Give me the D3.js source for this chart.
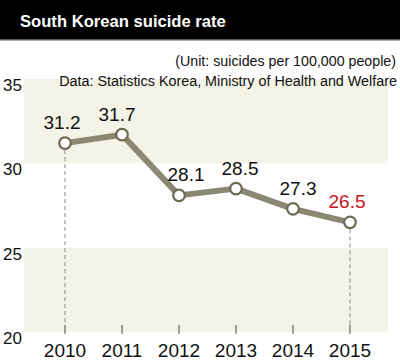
<!DOCTYPE html>
<html><head><meta charset="utf-8">
<script src="https://cdn.jsdelivr.net/npm/d3@7"></script>
<style>html,body{margin:0;padding:0;background:#fff;}svg{display:block;}</style>
</head><body>
<svg id="c" width="400" height="363"></svg>
<script>
const years = ["2010","2011","2012","2013","2014","2015"];
const rates = [31.2, 31.7, 28.1, 28.5, 27.3, 26.5];
const yTicks = [20, 25, 30, 35];
const bands = [[30, 35], [20, 25]];
const labelDx = [-3, -5, 7, 4, 5, -3];
const title = "South Korean suicide rate";
const unitNote = "(Unit: suicides per 100,000 people)";
const sourceNote = "Data: Statistics Korea, Ministry of Health and Welfare";

const svg = d3.select("#c");
const x = d3.scalePoint().domain(years).range([65, 350]);
const y = d3.scaleLinear().domain([20, 35]).range([332, 79]);
const plotL = 24, plotR = 388;

// fit font size so that the natural width matches target
function fit(sel, size, target, maxSize) {
  sel.attr("font-size", size);
  const w = sel.node().getComputedTextLength();
  if (w > 0) {
    let s = size * target / w;
    if (maxSize) s = Math.min(s, maxSize);
    sel.attr("font-size", s);
  }
  return sel;
}

// title bar
svg.append("rect").attr("x",0).attr("y",0).attr("width",400).attr("height",39).attr("fill","#000");
svg.append("rect").attr("x",0).attr("y",39).attr("width",400).attr("height",1.5).attr("fill","#5a5a5a");
const t = svg.append("text").attr("x",20).attr("y",27).text(title)
  .attr("font-family","'Liberation Sans Narrow','Liberation Sans',sans-serif").attr("font-weight","bold")
  .attr("fill","#fff");
fit(t, 20, 206, 21);

// bands
svg.selectAll("rect.band").data(bands).enter().append("rect").attr("class","band")
  .attr("x",plotL).attr("width",plotR-plotL)
  .attr("y",d=>y(d[1])).attr("height",d=>y(d[0])-y(d[1]))
  .attr("fill","#f4f3e8");

// notes
const n1 = svg.append("text").attr("x",396).attr("y",66).attr("text-anchor","end").text(unitNote)
  .attr("font-family","'Liberation Sans Narrow','Liberation Sans',sans-serif").attr("fill","#111");
fit(n1, 16, 221, 17);
const n2 = svg.append("text").attr("x",397).attr("y",86).attr("text-anchor","end").text(sourceNote)
  .attr("font-family","'Liberation Sans Narrow','Liberation Sans',sans-serif").attr("fill","#111");
fit(n2, 16, 338, 17);

// y labels
svg.selectAll("text.yl").data(yTicks).enter().append("text").attr("class","yl")
  .attr("x",3).attr("y",d=>y(d)+12).text(d=>d)
  .attr("font-family","'Liberation Sans Narrow','Liberation Sans',sans-serif").attr("font-size",17).attr("fill","#111");

// x ticks
svg.selectAll("line.xt").data(years).enter().append("line").attr("class","xt")
  .attr("x1",d=>x(d)).attr("x2",d=>x(d)).attr("y1",y(20)-7).attr("y2",y(20)+2)
  .attr("stroke","#6d6d6d").attr("stroke-width",1.3);
svg.selectAll("text.xl").data(years).enter().append("text").attr("class","xl")
  .attr("x",d=>x(d)).attr("y",357).attr("text-anchor","middle").text(d=>d)
  .attr("font-family","'Liberation Sans Narrow','Liberation Sans',sans-serif").attr("font-size",19).attr("fill","#111");

// dashed drop lines (first and last)
const data = years.map((yr,i)=>({yr, v:rates[i], i}));
svg.selectAll("line.drop").data([data[0], data[data.length-1]]).enter().append("line").attr("class","drop")
  .attr("x1",d=>x(d.yr)).attr("x2",d=>x(d.yr)).attr("y1",d=>y(d.v)).attr("y2",y(20)-6)
  .attr("stroke","#8a8a8a").attr("stroke-width",1).attr("stroke-dasharray","4,3");

// line
svg.append("path").datum(data)
  .attr("d", d3.line().x(d=>x(d.yr)).y(d=>y(d.v)))
  .attr("fill","none").attr("stroke","#8a8873").attr("stroke-width",6).attr("stroke-linejoin","round");

// points
svg.selectAll("circle.pt").data(data).enter().append("circle").attr("class","pt")
  .attr("cx",d=>x(d.yr)).attr("cy",d=>y(d.v)).attr("r",5.8)
  .attr("fill","#fff").attr("stroke","#6b6955").attr("stroke-width",2.2);

// value labels
svg.selectAll("text.vl").data(data).enter().append("text").attr("class","vl")
  .attr("x",d=>x(d.yr)+labelDx[d.i]).attr("y",d=>y(d.v)-14).attr("text-anchor","middle")
  .text(d=>d.v.toFixed(1))
  .attr("font-family","'Liberation Sans', Arial, sans-serif").attr("font-size",19)
  .attr("fill",d=>d.i===data.length-1 ? "#c8141e" : "#111");
</script>
</body></html>
